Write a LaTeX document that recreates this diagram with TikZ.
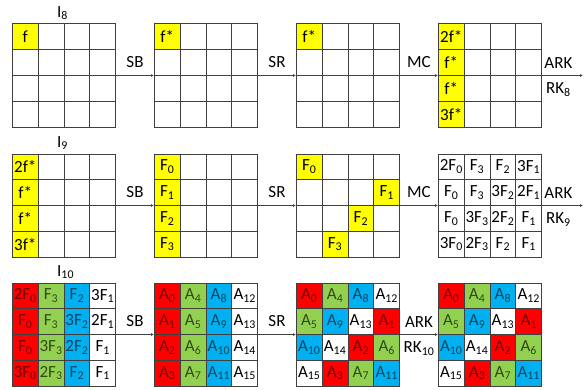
\documentclass[tikz,border=0pt]{standalone}
\usepackage{fontspec}
\setmainfont{Carlito}
\usetikzlibrary{matrix,positioning,arrows.meta}

\definecolor{fyellow}{RGB}{255,255,0}
\definecolor{fred}{RGB}{255,0,0}
\definecolor{fgreen}{RGB}{146,208,80}
\definecolor{fblue}{RGB}{0,176,240}
\definecolor{gridgray}{RGB}{64,64,64}

\newcommand{\idx}[1]{\textsubscript{#1}}

\tikzset{
  state/.style={matrix of nodes, nodes in empty cells, inner sep=0pt, outer sep=0pt,
    row sep=-0.8pt, column sep=-0.8pt,
    nodes={draw=gridgray, line width=0.8pt, minimum size=25.8pt, inner sep=0pt, anchor=center}},
  Y/.style={fill=fyellow},
  R/.style={fill=fred, text=fred!45!black},
  G/.style={fill=fgreen, text=fgreen!35!black},
  B/.style={fill=fblue, text=fblue!40!black},
  flow/.style={draw=gridgray, line width=0.8pt, -{Latex[length=3pt,width=3pt]}},
  lab above/.style={midway, above=7pt, inner sep=0pt},
  lab below/.style={midway, below=7pt, inner sep=0pt},
  title/.style={anchor=south west, inner sep=0pt}
}

\begin{document}
\begin{tikzpicture}[x=1pt, y=1pt, font=\fontsize{17}{20}\selectfont]
  \useasboundingbox (0,0) rectangle (585,389);

  % round 8
  \matrix (m11) [state] at (64,313.5) {
    |[Y]| f & & & \\
    & & & \\
    & & & \\
    & & & \\
  };
  \matrix (m12) [state, right=38pt of m11] {
    |[Y]| f* & & & \\
    & & & \\
    & & & \\
    & & & \\
  };
  \matrix (m13) [state, right=38pt of m12] {
    |[Y]| f* & & & \\
    & & & \\
    & & & \\
    & & & \\
  };
  \matrix (m14) [state, right=38pt of m13] {
    |[Y]| 2f* & & & \\
    |[Y]| f* & & & \\
    |[Y]| f* & & & \\
    |[Y]| 3f* & & & \\
  };
  \node[title] (t8) at ([xshift=-7pt, yshift=3.5pt]m11.north) {I\idx{8}};
  \coordinate (e1) at (583,0 |- m14.center);
  \draw[flow] (m11) -- (m12) node[lab above] {SB};
  \draw[flow] (m12) -- (m13) node[lab above] {SR};
  \draw[flow] (m13) -- (m14) node[lab above] {MC};
  \draw[flow] (m14) -- (e1) node[lab above, pos=0.4] {ARK} node[lab below, pos=0.4] {RK\idx{8}};

  % round 9
  \matrix (m21) [state, below=26pt of m11] {
    |[Y]| 2f* & & & \\
    |[Y]| f* & & & \\
    |[Y]| f* & & & \\
    |[Y]| 3f* & & & \\
  };
  \matrix (m22) [state, right=38pt of m21] {
    |[Y]| F\idx{0} & & & \\
    |[Y]| F\idx{1} & & & \\
    |[Y]| F\idx{2} & & & \\
    |[Y]| F\idx{3} & & & \\
  };
  \matrix (m23) [state, right=38pt of m22] {
    |[Y]| F\idx{0} & & & \\
    & & & |[Y]| F\idx{1} \\
    & & |[Y]| F\idx{2} & \\
    & |[Y]| F\idx{3} & & \\
  };
  \matrix (m24) [state, right=38pt of m23] {
    2F\idx{0} & F\idx{3} & F\idx{2} & 3F\idx{1} \\
    F\idx{0} & F\idx{3} & 3F\idx{2} & 2F\idx{1} \\
    F\idx{0} & 3F\idx{3} & 2F\idx{2} & F\idx{1} \\
    3F\idx{0} & 2F\idx{3} & F\idx{2} & F\idx{1} \\
  };
  \node[title] (t9) at ([xshift=-7pt, yshift=3.5pt]m21.north) {I\idx{9}};
  \coordinate (e2) at (583,0 |- m24.center);
  \draw[flow] (m21) -- (m22) node[lab above] {SB};
  \draw[flow] (m22) -- (m23) node[lab above] {SR};
  \draw[flow] (m23) -- (m24) node[lab above] {MC};
  \draw[flow] (m24) -- (e2) node[lab above, pos=0.4] {ARK} node[lab below, pos=0.4] {RK\idx{9}};

  % round 10
  \matrix (m31) [state, below=25pt of m21] {
    |[R]| 2F\idx{0} & |[G]| F\idx{3} & |[B]| F\idx{2} & 3F\idx{1} \\
    |[R]| F\idx{0} & |[G]| F\idx{3} & |[B]| 3F\idx{2} & 2F\idx{1} \\
    |[R]| F\idx{0} & |[G]| 3F\idx{3} & |[B]| 2F\idx{2} & F\idx{1} \\
    |[R]| 3F\idx{0} & |[G]| 2F\idx{3} & |[B]| F\idx{2} & F\idx{1} \\
  };
  \matrix (m32) [state, right=38pt of m31] {
    |[R]| A\idx{0} & |[G]| A\idx{4} & |[B]| A\idx{8} & A\idx{12} \\
    |[R]| A\idx{1} & |[G]| A\idx{5} & |[B]| A\idx{9} & A\idx{13} \\
    |[R]| A\idx{2} & |[G]| A\idx{6} & |[B]| A\idx{10} & A\idx{14} \\
    |[R]| A\idx{3} & |[G]| A\idx{7} & |[B]| A\idx{11} & A\idx{15} \\
  };
  \matrix (m33) [state, right=38pt of m32] {
    |[R]| A\idx{0} & |[G]| A\idx{4} & |[B]| A\idx{8} & A\idx{12} \\
    |[G]| A\idx{5} & |[B]| A\idx{9} & A\idx{13} & |[R]| A\idx{1} \\
    |[B]| A\idx{10} & A\idx{14} & |[R]| A\idx{2} & |[G]| A\idx{6} \\
    A\idx{15} & |[R]| A\idx{3} & |[G]| A\idx{7} & |[B]| A\idx{11} \\
  };
  \matrix (m34) [state, right=38pt of m33] {
    |[R]| A\idx{0} & |[G]| A\idx{4} & |[B]| A\idx{8} & A\idx{12} \\
    |[G]| A\idx{5} & |[B]| A\idx{9} & A\idx{13} & |[R]| A\idx{1} \\
    |[B]| A\idx{10} & A\idx{14} & |[R]| A\idx{2} & |[G]| A\idx{6} \\
    A\idx{15} & |[R]| A\idx{3} & |[G]| A\idx{7} & |[B]| A\idx{11} \\
  };
  \node[title] (t10) at ([xshift=-7pt, yshift=3.5pt]m31.north) {I\idx{10}};
  \draw[flow] (m31) -- (m32) node[lab above] {SB};
  \draw[flow] (m32) -- (m33) node[lab above] {SR};
  \draw[flow] (m33) -- (m34) node[lab above] {ARK} node[lab below] {RK\idx{10}};
\end{tikzpicture}
\end{document}
